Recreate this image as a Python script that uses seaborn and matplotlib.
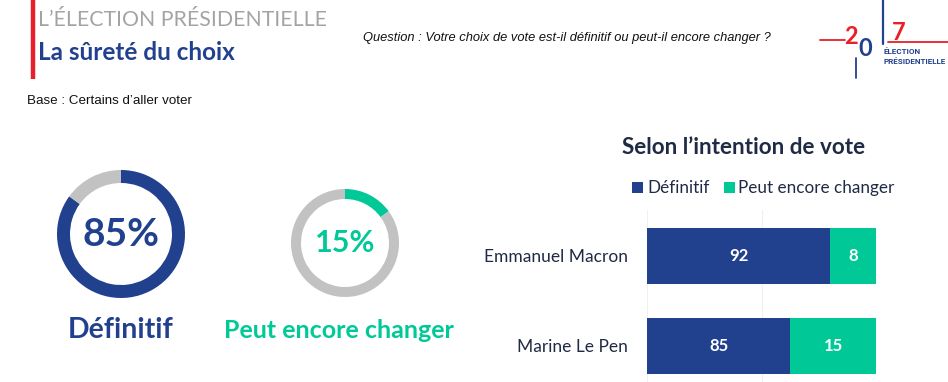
import matplotlib
matplotlib.use("Agg")
import matplotlib.pyplot as plt
import seaborn as sns
import pandas as pd

# ---- data ----
candidates = ["Emmanuel Macron", "Marine Le Pen"]
definitif = [92, 85]
peut_changer = [8, 15]
overall_labels = ["Définitif", "Peut encore changer"]
overall_values = [85, 15]

BLUE = "#21418F"
GREEN = "#00C997"
GRAY = "#C2C2C2"
NAVY = "#1F2A44"
RED = "#E8202A"

sns.set_theme(style="white")
plt.rcParams['font.family'] = ['Lato', 'DejaVu Sans']

W, H = 948, 382
fig = plt.figure(figsize=(W / 100, H / 100), dpi=100)
fig.patch.set_facecolor("white")

def px_axes(left, top, width, height):
    return fig.add_axes([left / W, (H - top - height) / H, width / W, height / H])

# ---- overlay for header decorations ----
ov = fig.add_axes([0, 0, 1, 1])
ov.set_xlim(0, W); ov.set_ylim(H, 0); ov.axis("off")
ov.plot([33.5, 33.5], [0, 79], color=RED, lw=3.2, solid_capstyle="butt")
ov.text(38, 20, "L’ÉLECTION PRÉSIDENTIELLE", fontsize=15.3, color="#A3A3A3",
        va="center", ha="left", fontweight="normal")
ov.text(38, 52, "La sûreté du choix", fontsize=17.5, color=BLUE,
        va="center", ha="left", fontweight="bold")
ov.text(363, 38, "Question : Votre choix de vote est-il définitif ou peut-il encore changer ?",
        fontsize=9.3, style="italic", color="#111111", va="center", ha="left",
        family="Liberation Sans")
ov.text(27, 101, "Base : Certains d’aller voter", fontsize=9.6, color="#111111",
        va="center", ha="left", family="Liberation Sans")

# logo approximation
ov.plot([820, 845], [40, 40], color=RED, lw=1.3)
ov.plot([883, 883], [0, 44], color=BLUE, lw=1.6)
ov.plot([888, 948], [42, 42], color=RED, lw=1.3)
ov.plot([856, 856], [58, 78], color=BLUE, lw=1.3)
ov.text(851, 37, "2", fontsize=17, color=RED, ha="center", va="center", fontweight="bold")
ov.text(865, 49, "0", fontsize=17, color=BLUE, ha="center", va="center", fontweight="bold")
ov.text(899, 33, "7", fontsize=17, color=RED, ha="center", va="center", fontweight="bold")
ov.text(884, 52, "ÉLECTION", fontsize=5.8, color=BLUE, ha="left", va="center",
        fontweight="bold", family="Roboto")
ov.text(884, 62, "PRÉSIDENTIELLE", fontsize=5.8, color=BLUE, ha="left", va="center",
        fontweight="bold", family="Roboto")

# ---- donuts ----
def donut(cx, cy, r, width, value, color, fs):
    ax = px_axes(cx - r, cy - r, 2 * r, 2 * r)
    ax.pie([value, 100 - value], colors=[color, GRAY], startangle=90, counterclock=False,
           radius=1, wedgeprops=dict(width=width / r, linewidth=0))
    ax.set_xlim(-1, 1); ax.set_ylim(-1, 1); ax.set_aspect("equal"); ax.axis("off")
    ax.text(0, 0, f"{value}%", color=color, fontsize=fs, fontweight="bold",
            ha="center", va="center")
    return ax

donut(121, 234, 64, 13, overall_values[0], BLUE, 28)
donut(345, 243, 54, 10, overall_values[1], GREEN, 22)

ov.text(121, 330, overall_labels[0], fontsize=20.5, color=BLUE, fontweight="bold",
        ha="center", va="center")
ov.text(339, 330, overall_labels[1], fontsize=18, color=GREEN, fontweight="bold",
        ha="center", va="center")

# ---- stacked bar chart ----
df = pd.DataFrame({"candidat": candidates, "Définitif": definitif,
                   "Peut encore changer": peut_changer})
df["total"] = df["Définitif"] + df["Peut encore changer"]

ax = px_axes(647, 210, 229, 172)
sns.barplot(data=df, y="candidat", x="total", color=GREEN, orient="h", width=0.62,
            ax=ax, linewidth=0, saturation=1)
sns.barplot(data=df, y="candidat", x="Définitif", color=BLUE, orient="h", width=0.62,
            ax=ax, linewidth=0, saturation=1)
ax.set_xlim(60, 100)
ax.set_ylim(1.4, -0.51)
ax.set_xticks([60, 80, 100])
ax.xaxis.grid(True, color="#F0F0F0", lw=0.8)
ax.set_axisbelow(True)
ax.tick_params(axis="x", bottom=False, labelbottom=False)
ax.tick_params(axis="y", left=False, length=0, pad=13.5, labelsize=12.5, labelcolor=NAVY)
for s in ax.spines.values():
    s.set_visible(False)
ax.set_xlabel(""); ax.set_ylabel("")

for i, (d, c) in enumerate(zip(definitif, peut_changer)):
    ax.text((60 + d) / 2, i, str(d), color="white", fontweight="bold", fontsize=12,
            ha="center", va="center")
    ax.text(d + c / 2, i, str(c), color="white", fontweight="bold", fontsize=12,
            ha="center", va="center")

ov.text(744, 147, "Selon l’intention de vote", fontsize=16.2, color=NAVY,
        fontweight="bold", ha="center", va="center")
# legend
ov.add_patch(plt.Rectangle((632, 182), 11, 11, color=BLUE, lw=0))
ov.text(647, 188, "Définitif", fontsize=12.3, color=NAVY, ha="left", va="center")
ov.add_patch(plt.Rectangle((724, 182), 11, 11, color=GREEN, lw=0))
ov.text(738, 188, "Peut encore changer", fontsize=12.3, color=NAVY, ha="left", va="center")

fig.savefig("out.png", dpi=100, facecolor="white")
